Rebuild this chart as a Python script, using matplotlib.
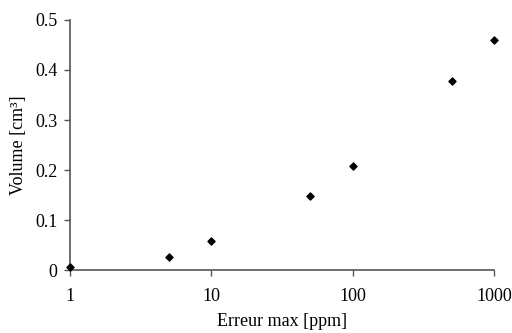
import matplotlib
matplotlib.use("Agg")
import matplotlib.pyplot as plt
from matplotlib.ticker import FixedLocator, NullLocator

# erreur max [ppm] -> volume [cm3]
erreur = [1, 5, 10, 50, 100, 500, 1000]
volume = [0.007, 0.026, 0.058, 0.148, 0.209, 0.379, 0.459]

plt.rcParams['font.family'] = ['Liberation Serif', 'DejaVu Serif']
plt.rcParams['font.size'] = 13

fig = plt.figure(figsize=(5.12, 3.33), dpi=100)
ax = fig.add_axes([0.137, 0.189, 0.828, 0.751])

ax.scatter(erreur, volume, marker='D', s=13, color='k', zorder=3, clip_on=False)

ax.set_xscale('log')
ax.set_xlim(1, 1000)
ax.set_ylim(0, 0.5)
ax.xaxis.set_major_locator(FixedLocator([1, 10, 100, 1000]))
ax.xaxis.set_minor_locator(NullLocator())
ax.set_xticklabels(['1', '10', '100', '1000'])
ax.set_yticks([0, 0.1, 0.2, 0.3, 0.4, 0.5])
ax.set_yticklabels(['0', '0.1', '0.2', '0.3', '0.4', '0.5'])

for s in ['top', 'right']:
    ax.spines[s].set_visible(False)
for s in ['left', 'bottom']:
    ax.spines[s].set_color('#555555')
    ax.spines[s].set_linewidth(1.2)
ax.tick_params(colors='#555555', labelcolor='k', length=4, width=1)
ax.tick_params(axis='x', pad=9)
ax.tick_params(axis='y', pad=5)

ax.set_xlabel('Erreur max [ppm]', labelpad=6)
ax.set_ylabel('Volume [cm³]', labelpad=6)

fig.savefig('out.png', dpi=100)
